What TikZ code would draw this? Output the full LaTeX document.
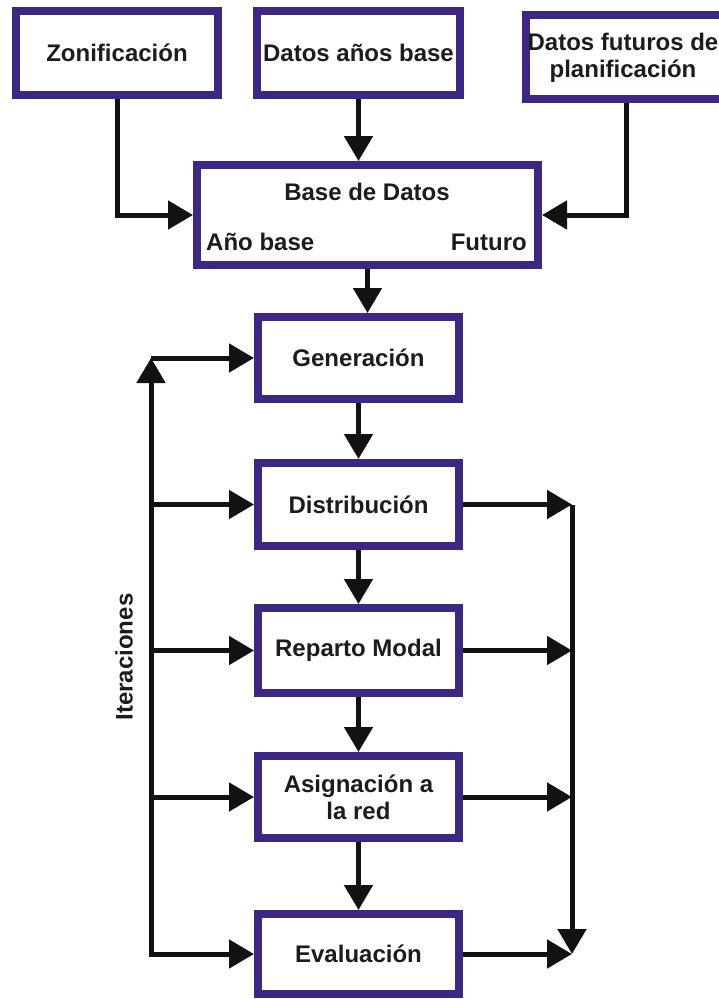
\documentclass[tikz,border=0pt]{standalone}
\usepackage{fontspec}
\setmainfont{Liberation Sans}
\usetikzlibrary{arrows.meta}
\definecolor{boxpurple}{RGB}{60,40,132}
\definecolor{ink}{RGB}{28,28,28}
\begin{document}
\begin{tikzpicture}[x=1pt,y=-1pt,
  stage/.style={draw=boxpurple, line width=8pt, fill=white, rectangle,
    minimum width=201pt, minimum height=82pt, inner sep=0pt,
    font=\fontsize{24}{27}\selectfont\bfseries, text=ink, align=center},
  lbl/.style={font=\fontsize{24}{27}\selectfont\bfseries, text=ink, inner sep=0pt, align=center},
  arr/.style={draw=black!93, line width=5pt, line join=miter,
    -{Triangle[length=25pt,width=28pt]}},
  biarr/.style={draw=black!93, line width=5pt, line join=miter,
    {Triangle[length=25pt,width=28pt]}-{Triangle[length=25pt,width=28pt]}}]
\useasboundingbox (0,0) rectangle (719,999);
\clip (0,0) rectangle (719,999);

% input boxes
\node[stage, minimum width=202pt, minimum height=84pt] (zon) at (117,53) {Zonificación};
\node[stage, minimum width=203pt, minimum height=84pt] (dab) at (358.5,53) {Datos años base};
\node[stage, minimum width=200pt, minimum height=84pt] (dfp) at (626,57) {};
\node[lbl] (dfptxt) at (623,58) {Datos futuros de\\planificación};

% database
\node[stage, minimum width=341pt, minimum height=100pt] (base) at (367.5,215) {};
\node[lbl] (basetit) at (367,192) {Base de Datos};
\node[lbl, anchor=west] (basey) at (206,242) {Año base};
\node[lbl, anchor=east] (basef) at (527,242) {Futuro};

% model stages
\node[stage] (gen)  at (358.5,358)   {Generación};
\node[stage, minimum height=83pt] (dist) at (358.5,504.5) {Distribución};
\node[stage, minimum height=85pt] (rep)  at (358.5,650.5) {Reparto Modal};
\node[stage] (asig) at (358.5,797)   {Asignación a\\la red};
\node[stage, minimum height=80pt] (eval) at (358.5,954)   {Evaluación};

% inputs into the database
\draw[arr] (zon.south) |- (base.west);
\draw[arr] (dab.south) -- (dab.south |- base.north);
\draw[arr] (dfp.south) |- (base.east);
\draw[arr] (base.south) -- (base.south |- gen.north);

% main chain
\draw[arr] (gen)  -- (dist);
\draw[arr] (dist) -- (rep);
\draw[arr] (rep)  -- (asig);
\draw[arr] (asig) -- (eval);

% iteration loop on the left
\coordinate (lt) at (151,358);
\coordinate (lb) at (151,954);
\draw[biarr] (eval.west) -- (lb) -- (lt);
\draw[arr] (lt) -- (gen.west);
\draw[arr] (lt |- dist.west) -- (dist.west);
\draw[arr] (lt |- rep.west)  -- (rep.west);
\draw[arr] (lt |- asig.west) -- (asig.west);
\node[lbl, rotate=90] (iter) at (124,657) {Iteraciones};

% collector on the right
\coordinate (rt) at (572,504.5);
\coordinate (rb) at (572,954);
\draw[arr] (dist.east) -- (dist.east -| rt);
\draw[arr] (rep.east)  -- (rep.east -| rt);
\draw[arr] (asig.east) -- (asig.east -| rt);
\draw[arr] (eval.east) -- (eval.east -| rt);
\draw[arr] (rt) -- (rb);
\end{tikzpicture}
\end{document}
